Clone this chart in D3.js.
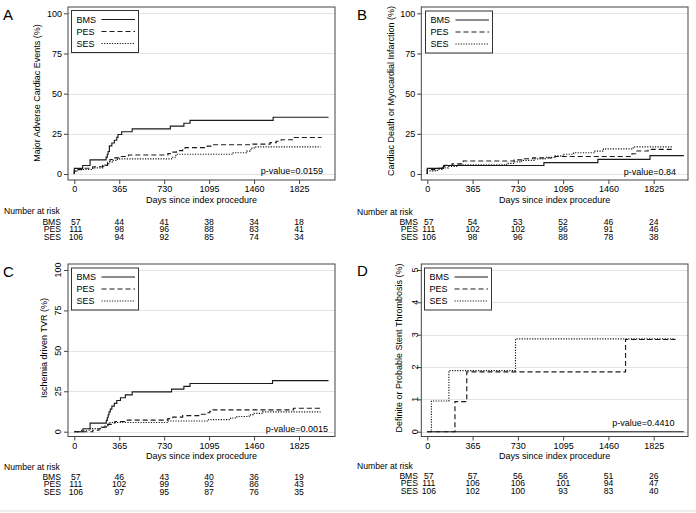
<!DOCTYPE html>
<html><head><meta charset="utf-8">
<script src="https://cdn.jsdelivr.net/npm/d3@7"></script>
<style>
body{margin:0;background:#fff;}
svg{display:block;font-family:"Liberation Sans",Arial,Helvetica,sans-serif;}
</style></head><body>
<svg id="c" width="696" height="513"></svg>
<script>
// ---------- data ----------
const xTicks = [0, 365, 730, 1095, 1460, 1825];
const groups = ["BMS", "PES", "SES"];
const yTicksPct = [0, 25, 50, 75, 100];
const yTicksST = [0, 1, 2, 3, 4, 5];

// Panel A: Major Adverse Cardiac Events (%)  [day, cumulative %]
const aBMS = [[0,0],[0,3.5],[68,5.3],[128,8.8],[258,10.5],[268,12.3],[275,14],[285,17.5],[305,19.3],[325,21],[345,22.8],[355,24.6],[385,26.3],[470,28.1],[780,29.8],[890,31.6],[940,33.4],[1615,35.3],[2065,35.3]];
const aPES = [[0,0],[0,1.8],[20,2.7],[60,3.6],[150,4.5],[230,5.4],[270,7.2],[290,9],[320,10],[360,10.9],[440,11.8],[760,12.7],[800,13.6],[830,14.5],[880,15.4],[900,16.4],[1080,17.3],[1110,18.2],[1450,18.6],[1590,19.5],[1640,20.4],[1680,21.3],[1770,22.7],[2011,22.7]];
const aSES = [[0,0],[0,1.9],[30,2.8],[150,3.8],[230,4.7],[250,5.7],[280,7.5],[310,8.5],[350,9.4],[790,10.4],[825,12.3],[1290,13.2],[1400,14.2],[1425,15.1],[1440,16],[1460,16.9],[2000,16.9]];

// Panel B: Cardiac Death or Myocardial Infarction (%)
const bBMS = [[0,0],[0,3.5],[130,5.3],[940,7.1],[1375,9.1],[1795,11.4],[2068,11.4]];
const bPES = [[0,0],[0,2.7],[60,3.6],[140,5.4],[200,6.3],[290,8.1],[700,8.8],[760,9.5],[850,10],[1030,10.9],[1650,12.6],[1680,14.3],[1780,15.3],[1980,15.3]];
const bSES = [[0,0],[0,1.9],[80,2.8],[120,3.8],[170,4.7],[250,5.7],[640,6.6],[700,7.5],[760,8.5],[860,9.4],[950,10.4],[1030,11.3],[1100,12.3],[1180,13.2],[1350,14.2],[1420,15.6],[1660,16.9],[1980,16.9]];

// Panel C: Ischemia driven TVR (%)
const cBMS = [[0,0],[70,1.8],[128,5.3],[260,7],[268,8.8],[275,10.5],[282,12.3],[292,14],[305,15.8],[325,17.5],[345,19.3],[375,21],[415,22.8],[470,24.6],[790,26.3],[890,28],[940,29.8],[1610,31.6],[2065,31.6]];
const cPES = [[0,0],[150,0.9],[200,1.8],[230,2.7],[250,3.6],[270,4.5],[300,5.4],[330,6.3],[420,7.2],[760,8.1],[800,9],[880,9.9],[1020,10.8],[1070,11.7],[1100,12.6],[1120,13.5],[1780,14.5],[2000,14.5]];
const cSES = [[0,0],[60,0.9],[130,1.9],[220,2.8],[260,3.8],[275,4.7],[290,5.7],[760,6.6],[1090,7.5],[1270,8.5],[1320,9.4],[1420,10.4],[1450,11.3],[1530,12.3],[2000,12.3]];

// Panel D: Definite or Probable Stent Thrombosis (%)
const dBMS = [[0,0],[2068,0]];
const dPES = [[0,0],[223,0.93],[318,1.85],[1598,2.85],[2000,2.85]];
const dSES = [[0,0],[33,0.95],[174,1.89],[711,2.87],[2000,2.87]];

// Numbers at risk at xTicks
const riskA = [[57,44,41,38,34,18],[111,98,96,88,83,41],[106,94,92,85,74,34]];
const riskB = [[57,54,53,52,46,24],[111,102,102,96,91,46],[106,98,96,88,78,38]];
const riskC = [[57,46,43,40,36,19],[111,102,99,92,86,43],[106,97,95,87,76,35]];
const riskD = [[57,57,56,56,51,26],[111,106,106,101,94,47],[106,102,100,93,83,40]];

const yTitles = ["Major Adverse Cardiac Events (%)","Cardiac Death or Myocardial Infarction (%)","Ischemia driven TVR (%)","Definite or Probable Stent Thrombosis (%)"];
const pValues = ["p-value=0.0159","p-value=0.84","p-value=0.0015","p-value=0.4410"];
const letters = ["A","B","C","D"];

// ---------- layout ----------
const dashes = [null, "5,3", "1.2,1.4"];
const panels = [
 {series:[aBMS,aPES,aSES], risk:riskA, yMax:100, yTicks:yTicksPct, rot:false,
  fx:[68,335], fy:[7,180], xr:[74.3,299], yr:[174,13.3],
  letter:[3,20], leg:[71,10], ytx:40, yty:93, pv:[323,174], nar:[4,61], rows:[214,224.5,232,239.5]},
 {series:[bBMS,bPES,bSES], risk:riskB, yMax:100, yTicks:yTicksPct, rot:false,
  fx:[421.3,688], fy:[7,180], xr:[427.3,653.7], yr:[174,13.3],
  letter:[357,20], leg:[425,10.5], ytx:393.5, yty:91, pv:[676,174.5], nar:[357,418], rows:[215,224.5,232,239.5]},
 {series:[cBMS,cPES,cSES], risk:riskC, yMax:100, yTicks:yTicksPct, rot:true,
  fx:[68,335], fy:[264,436.5], xr:[74.3,299], yr:[431.7,270],
  letter:[3,277], leg:[71,267.5], ytx:46.5, yty:348, yl:57.5, pv:[328,432], nar:[4,61], rows:[470,479.5,487,494.5]},
 {series:[dBMS,dPES,dSES], risk:riskD, yMax:5, yTicks:yTicksST, rot:true,
  fx:[421.3,688], fy:[264,436.5], xr:[427.3,653.7], yr:[431.7,270],
  letter:[357,276], leg:[424,267.5], ytx:401.5, yty:348, yl:415, pv:[674.5,425.5], nar:[357,418], rows:[469,478.5,486,493.5]}
];

const svg = d3.select("#c");
svg.append("rect").attr("x",0).attr("y",0).attr("width",696).attr("height",513).attr("fill","#fff");
svg.append("line").attr("x1",0).attr("x2",696).attr("y1",511).attr("y2",511).attr("stroke","#efefef").attr("stroke-width",2);

const FS = 9;
const RFS = 8.6;
panels.forEach((p,pi)=>{
  const g = svg.append("g");
  const x = d3.scaleLinear().domain([0,1825]).range(p.xr);
  const y = d3.scaleLinear().domain([0,p.yMax]).range(p.yr);

  // grid
  g.selectAll("line.grid").data(p.yTicks).join("line")
    .attr("x1",p.fx[0]).attr("x2",p.fx[1])
    .attr("y1",d=>Math.round(y(d))+0.5).attr("y2",d=>Math.round(y(d))+0.5)
    .attr("stroke","#e4e4e4").attr("stroke-width",1);

  // curves
  const line = d3.line().x(d=>x(d[0])).y(d=>y(d[1])).curve(d3.curveStepAfter);
  p.series.forEach((s,i)=>{
    g.append("path").attr("d",line(s)).attr("fill","none")
     .attr("stroke","#1a1a1a").attr("stroke-width",1.15)
     .attr("stroke-dasharray",dashes[i]);
  });

  // frame
  g.append("rect").attr("x",p.fx[0]).attr("y",p.fy[0])
   .attr("width",p.fx[1]-p.fx[0]).attr("height",p.fy[1]-p.fy[0])
   .attr("fill","none").attr("stroke","#444").attr("stroke-width",1);

  // x axis
  const xa = d3.axisBottom(x).tickValues(xTicks).tickSize(4).tickPadding(2).tickFormat(d3.format("d"));
  const gx = g.append("g").attr("transform",`translate(0,${p.fy[1]})`).call(xa);
  gx.select(".domain").remove();
  gx.selectAll("line").attr("stroke","#444");
  gx.selectAll("text").attr("font-size",FS).attr("fill","#000").attr("font-family",null);

  // y axis
  const ya = d3.axisLeft(y).tickValues(p.yTicks).tickSize(4).tickPadding(2).tickFormat(d3.format("d"));
  const gy = g.append("g").attr("transform",`translate(${p.fx[0]},0)`).call(ya);
  gy.select(".domain").remove();
  gy.selectAll("line").attr("stroke","#444");
  gy.selectAll("text").attr("font-size",FS).attr("fill","#000").attr("font-family",null);
  if(p.rot){
    gy.selectAll("text").remove();
    g.selectAll("text.yl").data(p.yTicks).join("text")
     .attr("transform",d=>`translate(${p.yl},${y(d)}) rotate(-90)`)
     .attr("text-anchor","middle").attr("dy","0.35em")
     .attr("font-size",FS).attr("fill","#000").text(d=>d);
  }

  // axis titles
  g.append("text").attr("x",(p.fx[0]+p.fx[1])/2).attr("y",p.fy[1]+22.5)
   .attr("text-anchor","middle").attr("font-size",FS).attr("fill","#000")
   .text("Days since index procedure");
  g.append("text").attr("transform",`translate(${p.ytx},${p.yty}) rotate(-90)`)
   .attr("text-anchor","middle").attr("font-size",FS).attr("fill","#000")
   .text(yTitles[pi]);

  // p-value
  g.append("text").attr("x",p.pv[0]).attr("y",p.pv[1]).attr("text-anchor","end")
   .attr("font-size",FS).attr("fill","#000").text(pValues[pi]);

  // letter
  g.append("text").attr("x",p.letter[0]).attr("y",p.letter[1])
   .attr("font-size",15).attr("fill","#000").text(letters[pi]);

  // legend
  const lg = g.append("g").attr("transform",`translate(${p.leg[0]},${p.leg[1]})`);
  lg.append("rect").attr("x",0.5).attr("y",0.5).attr("width",67).attr("height",42)
    .attr("fill","#fff").attr("stroke","#333").attr("stroke-width",1);
  groups.forEach((gname,i)=>{
    const cy = 9.5 + i*12;
    lg.append("text").attr("x",5.5).attr("y",cy).attr("dy","0.35em")
      .attr("font-size",FS).attr("fill","#000").text(gname);
    lg.append("line").attr("x1",30.5).attr("x2",64).attr("y1",cy).attr("y2",cy)
      .attr("stroke","#1a1a1a").attr("stroke-width",1.15).attr("stroke-dasharray",dashes[i]);
  });

  // number at risk
  g.append("text").attr("x",p.nar[0]).attr("y",p.rows[0]).attr("font-size",RFS).attr("fill","#000").text("Number at risk");
  groups.forEach((gname,i)=>{
    g.append("text").attr("x",p.nar[1]).attr("y",p.rows[i+1]).attr("text-anchor","end")
     .attr("font-size",RFS).attr("fill","#000").text(gname);
    g.selectAll(null).data(p.risk[i]).join("text")
     .attr("x",(d,j)=>x(xTicks[j]) + (j===0 ? 1.5 : 0)).attr("y",p.rows[i+1]).attr("text-anchor","middle")
     .attr("font-size",RFS).attr("fill","#000").text(d=>d);
  });
});
</script>
</body></html>
